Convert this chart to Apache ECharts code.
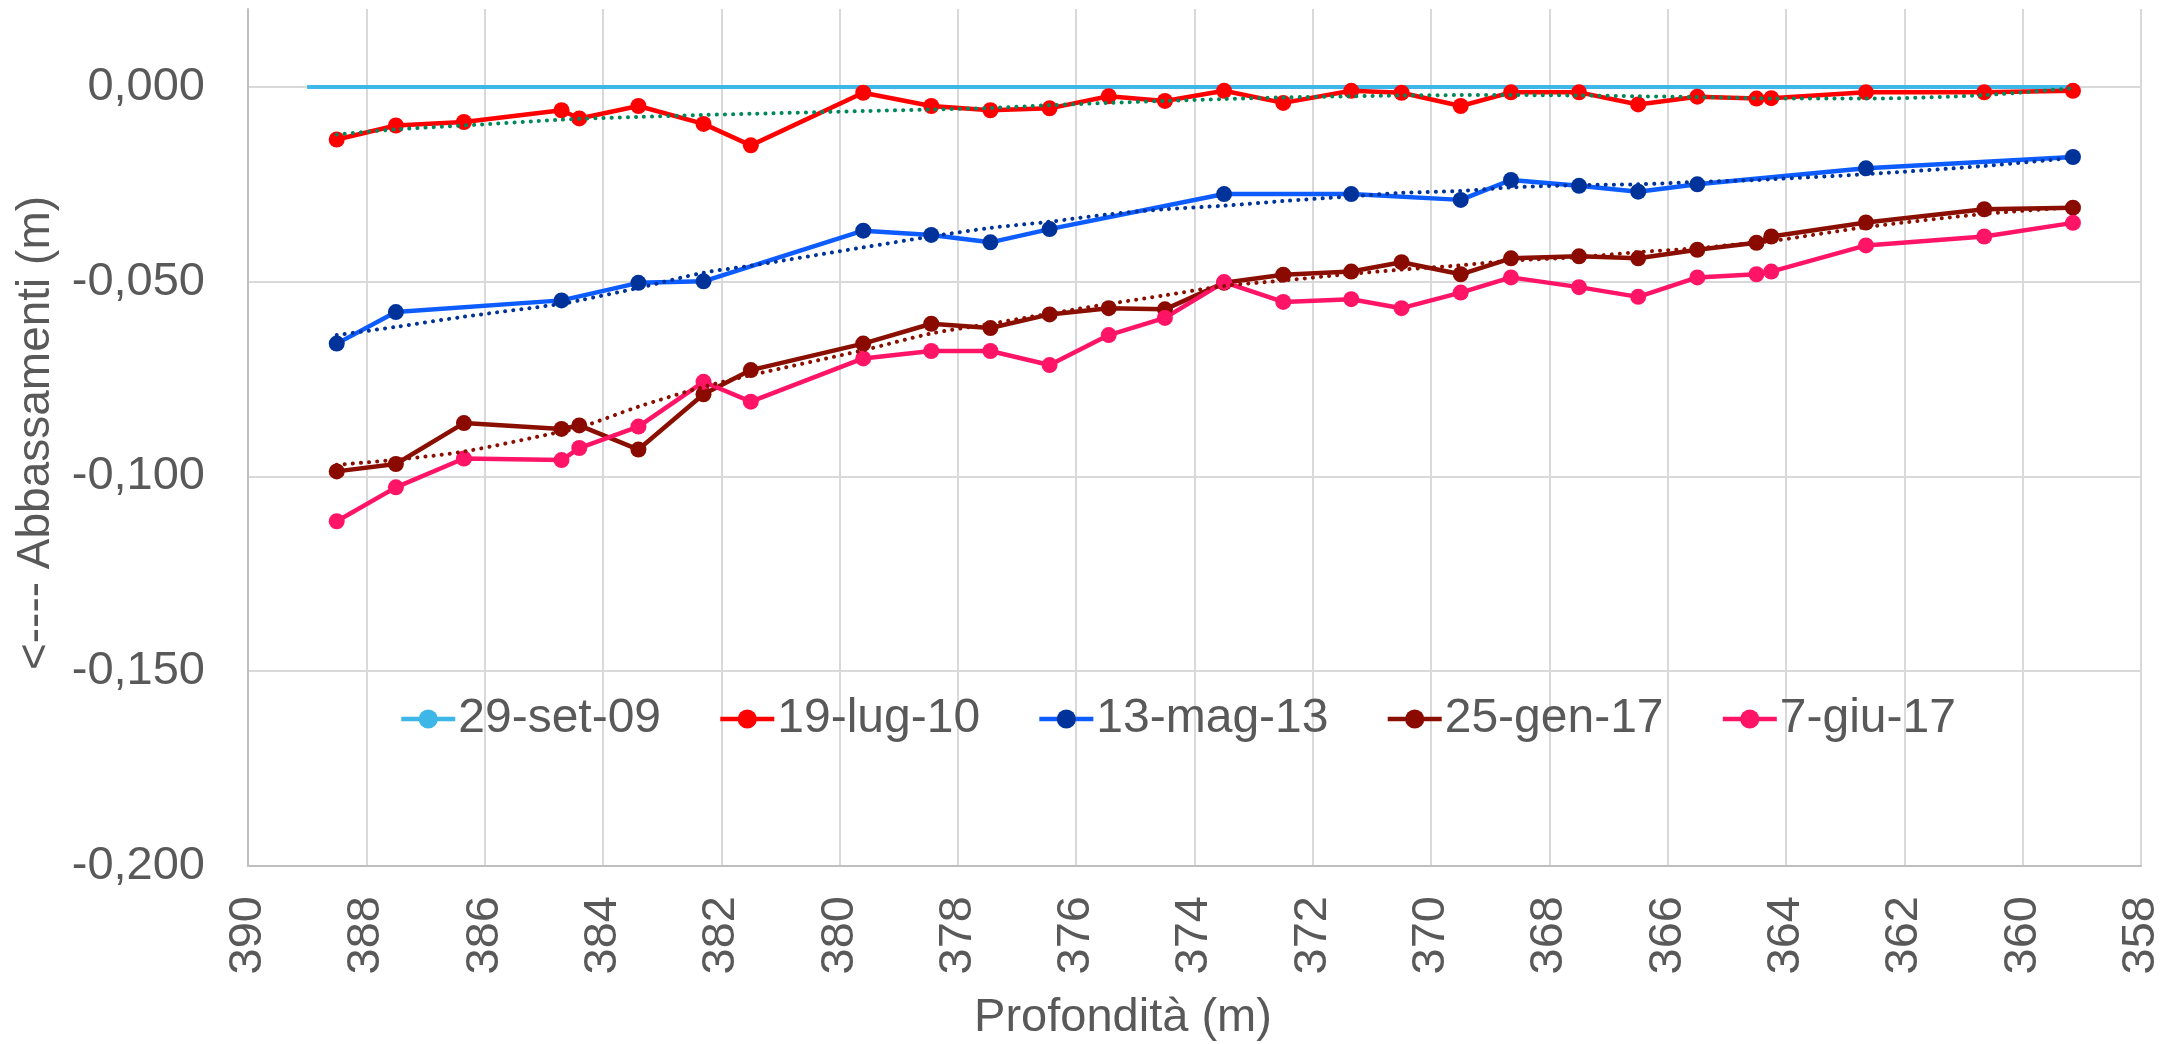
<!DOCTYPE html>
<html>
<head>
<meta charset="utf-8">
<script src="https://cdn.jsdelivr.net/npm/echarts@6/dist/echarts.min.js"></script>
<style>
html,body{margin:0;padding:0;background:#fff;}
#chart{width:2165px;height:1044px;}
</style>
</head>
<body>
<div id="chart"></div>
<script>
// ---------- DATA ----------
const depths = [388.5, 387.5, 386.35, 384.7, 384.4, 383.4, 382.3, 381.5, 379.6, 378.45, 377.45, 376.45, 375.45, 374.5, 373.5, 372.5, 371.35, 370.5, 369.5, 368.65, 367.5, 366.5, 365.5, 364.5, 364.25, 362.65, 360.65, 359.15];

const depths09 = [389, 388.5, 387.5, 386.35, 384.7, 384.4, 383.4, 382.3, 381.5, 379.6, 378.45, 377.45, 376.45, 375.45, 374.5, 373.5, 372.5, 371.35, 370.5, 369.5, 368.65, 367.5, 366.5, 365.5, 364.5, 364.25, 362.65, 360.65, 359.15];
const set09 = [0, 0, 0, 0, 0, 0, 0, 0, 0, 0, 0, 0, 0, 0, 0, 0, 0, 0, 0, 0, 0, 0, 0, 0, 0, 0, 0, 0, 0];

const lug10 = [-0.0135, -0.0099, -0.0090, -0.0060, -0.0081, -0.0049, -0.0095, -0.0150, -0.0015, -0.0049, -0.0060, -0.0055, -0.0024, -0.0036, -0.0010, -0.0041, -0.0010, -0.0015, -0.0049, -0.0014, -0.0014, -0.0045, -0.0025, -0.0030, -0.0029, -0.0014, -0.0014, -0.0010];

const mag13 = [-0.0659, -0.0578, null, -0.0548, null, -0.0503, -0.0499, null, -0.0369, -0.0380, -0.0399, -0.0365, null, null, -0.0275, null, -0.0275, null, -0.0290, -0.0239, -0.0254, -0.0269, -0.0250, null, null, -0.0209, null, -0.0180];

const gen17 = [-0.0987, -0.0968, -0.0863, -0.0878, -0.0869, -0.0931, -0.0789, -0.0727, -0.0659, -0.0608, -0.0619, -0.0584, -0.0568, -0.0571, -0.0503, -0.0482, -0.0474, -0.0450, -0.0481, -0.0440, -0.0435, -0.0440, -0.0418, -0.0400, -0.0384, -0.0348, -0.0314, -0.0310];

const giu17 = [-0.1115, -0.1028, -0.0954, -0.0958, -0.0927, -0.0872, -0.0757, -0.0808, -0.0697, -0.0678, -0.0678, -0.0714, -0.0637, -0.0593, -0.0501, -0.0552, -0.0545, -0.0568, -0.0528, -0.0489, -0.0514, -0.0539, -0.0489, -0.0481, -0.0474, -0.0407, -0.0384, -0.0349];

// trendlines
const trendLug10 = [-0.0122, -0.0109, -0.0099, -0.0084, -0.0082, -0.0077, -0.0072, -0.0069, -0.0062, -0.0058, -0.0054, -0.0047, -0.0041, -0.0036, -0.0031, -0.0027, -0.0024, -0.0022, -0.0021, -0.0021, -0.0022, -0.0024, -0.0026, -0.0029, -0.0030, -0.0030, -0.0021, -0.0003];
const trendMag13 = [-0.0637, -0.0616, -0.0590, -0.0557, -0.0548, -0.0516, -0.0477, -0.0459, -0.0412, -0.0384, -0.0362, -0.0346, -0.0327, -0.0314, -0.0305, -0.0293, -0.0281, -0.0272, -0.0267, -0.0258, -0.0252, -0.0250, -0.0244, -0.0239, -0.0237, -0.0224, -0.0203, -0.0182];
const trendGen17 = [-0.0970, -0.0957, -0.0936, -0.0885, -0.0875, -0.0821, -0.0770, -0.0740, -0.0676, -0.0633, -0.0608, -0.0582, -0.0557, -0.0535, -0.0511, -0.0497, -0.0480, -0.0469, -0.0458, -0.0446, -0.0437, -0.0424, -0.0414, -0.0399, -0.0396, -0.0360, -0.0326, -0.0309];

const seriesNames = ['29-set-09', '19-lug-10', '13-mag-13', '25-gen-17', '7-giu-17'];
const xTitle = 'Profondità (m)';
const yTitle = '<---- Abbassamenti (m)';

// ---------- BUILD ----------
function pairs(xs, ys) {
  const out = [];
  for (let i = 0; i < xs.length; i++) if (ys[i] !== null && ys[i] !== undefined) out.push([xs[i], ys[i]]);
  return out;
}
const FONT = 'Liberation Sans, Arial, sans-serif';
const TXT = '#595959';
const FS = 47;
const FSL = 48;

function dataLine(name, xs, ys, lineColor, markColor) {
  return {
    name: name, type: 'line', data: pairs(xs, ys),
    symbol: 'circle', symbolSize: 16, showSymbol: true,
    connectNulls: true,
    lineStyle: { color: lineColor, width: 4.5 },
    itemStyle: { color: markColor },
    emphasis: { disabled: true },
    animation: false, z: 3
  };
}
function trendLine(name, ys, color) {
  return {
    name: name, type: 'line', data: pairs(depths, ys),
    symbol: 'none', smooth: 0.3,
    lineStyle: { color: color, width: 4, type: [0.1, 8], cap: 'round' },
    emphasis: { disabled: true },
    animation: false, z: 4, silent: true
  };
}

const chart = echarts.init(document.getElementById('chart'), null, { renderer: 'canvas' });
chart.setOption({
  backgroundColor: '#ffffff',
  animation: false,
  grid: { left: 248, right: 24, top: 9, bottom: 178, containLabel: false },
  xAxis: {
    type: 'value', inverse: true, min: 358, max: 390, interval: 2,
    axisLine: { show: true, onZero: false, lineStyle: { color: '#BFBFBF', width: 2 } },
    axisTick: { show: false },
    splitLine: { show: true, lineStyle: { color: '#D9D9D9', width: 2 } },
    axisLabel: { rotate: 90, margin: 30, color: TXT, fontSize: FS, fontFamily: FONT }
  },
  yAxis: {
    type: 'value', min: -0.2, max: 0.02, interval: 0.05,
    axisLine: { show: true, lineStyle: { color: '#BFBFBF', width: 2 } },
    axisTick: { show: false },
    splitLine: { show: true, showMaxLine: false, lineStyle: { color: '#D9D9D9', width: 2 } },
    axisLabel: {
      margin: 43, color: TXT, fontSize: FS, fontFamily: FONT, showMaxLabel: false,
      formatter: function (v) {
        if (v > 0.001) return '';
        return (Math.abs(v) < 1e-9 ? 0 : v).toFixed(3).replace('.', ',');
      }
    }
  },
  legend: {
    data: seriesNames,
    left: 399, top: 695, padding: 0,
    itemWidth: 54, itemHeight: 24, itemGap: 57,
    lineStyle: { width: 4.5 },
    textStyle: { color: TXT, fontSize: FSL, fontFamily: FONT, padding: [0, 0, 0, -2] },
    selectedMode: false
  },
  graphic: [
    { type: 'text', x: 1123, y: 1018, silent: true,
      style: { text: xTitle, fill: TXT, font: FS + 'px ' + FONT, align: 'center', verticalAlign: 'middle' } },
    { type: 'text', x: 36, y: 433, rotation: Math.PI / 2, silent: true,
      style: { text: yTitle, fill: TXT, font: '46px ' + FONT, align: 'center', verticalAlign: 'middle' } }
  ],
  series: [
    {
      name: seriesNames[0], type: 'line', data: pairs(depths09, set09),
      symbol: 'none', lineStyle: { color: '#3DB7E7', width: 4 }, itemStyle: { color: '#3DB7E7' },
      emphasis: { disabled: true }, animation: false, z: 2
    },
    dataLine(seriesNames[1], depths, lug10, '#FF0000', '#FF0000'),
    dataLine(seriesNames[2], depths, mag13, '#0C5CFF', '#00339A'),
    dataLine(seriesNames[3], depths, gen17, '#8A0F00', '#8A0A00'),
    dataLine(seriesNames[4], depths, giu17, '#FF1466', '#FF1466'),
    trendLine('trend 19-lug-10', trendLug10, '#00875A'),
    trendLine('trend 13-mag-13', trendMag13, '#00339A'),
    trendLine('trend 25-gen-17', trendGen17, '#8A0F00')
  ]
});
</script>
</body>
</html>
